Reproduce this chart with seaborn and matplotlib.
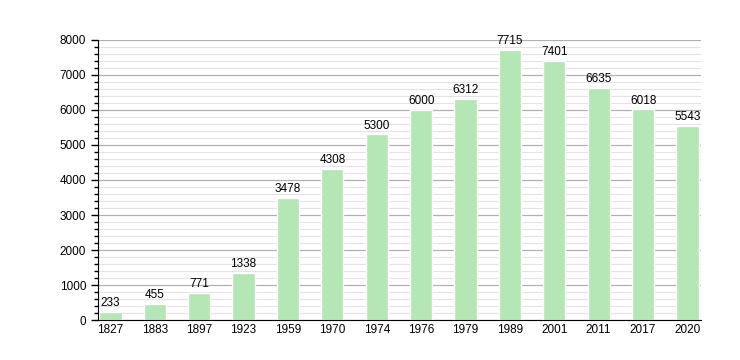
import matplotlib
matplotlib.use("Agg")
import matplotlib.pyplot as plt
import seaborn as sns
import pandas as pd
from matplotlib.ticker import MultipleLocator

years = ["1827", "1883", "1897", "1923", "1959", "1970", "1974", "1976",
         "1979", "1989", "2001", "2011", "2017", "2020"]
population = [233, 455, 771, 1338, 3478, 4308, 5300, 6000, 6312, 7715,
              7401, 6635, 6018, 5543]

df = pd.DataFrame({"year": years, "population": population})

sns.set_style("white")
plt.rcParams['font.family'] = ['Liberation Sans', 'DejaVu Sans']
plt.rcParams['text.color'] = 'black'
plt.rcParams['xtick.color'] = 'black'
plt.rcParams['ytick.color'] = 'black'

fig = plt.figure(figsize=(7.4, 3.6), dpi=100)
ax = fig.add_axes([0.1324, 0.111, 0.8146, 0.778])

ax.yaxis.set_major_locator(MultipleLocator(1000))
ax.yaxis.set_minor_locator(MultipleLocator(200))
ax.grid(which="major", axis="y", color="#b0b0b0", linewidth=0.9)
ax.grid(which="minor", axis="y", color="#e4e4e4", linewidth=0.8)
ax.set_axisbelow(True)

sns.barplot(data=df, x="year", y="population", color="#b5e6b5",
            saturation=1, width=0.5, ax=ax)

for container in ax.containers:
    ax.bar_label(container, fmt="%d", padding=2, fontsize=8.5, color="black")

ax.set_ylim(0, 8000)
ax.set_xlim(-0.28, 13.3)
ax.set_xlabel("")
ax.set_ylabel("")
sns.despine(ax=ax)
ax.spines["left"].set_color("black")
ax.spines["bottom"].set_color("black")
ax.tick_params(axis="y", which="major", length=5, width=1, left=True, labelsize=8.5)
ax.tick_params(axis="y", which="minor", length=3, width=1, left=True)
ax.tick_params(axis="x", length=0, labelsize=8.5, pad=3)

fig.savefig("out.png", dpi=100)
